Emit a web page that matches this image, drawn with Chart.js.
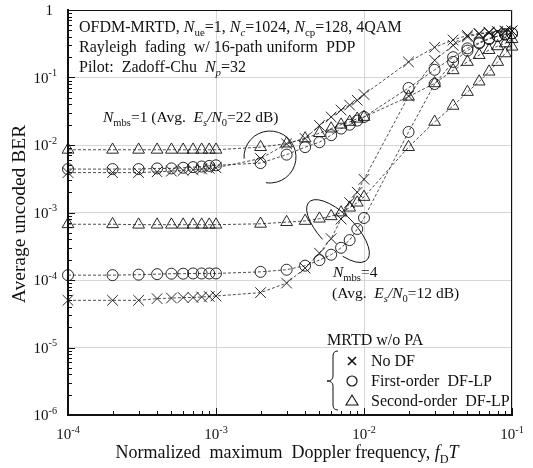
<!DOCTYPE html>
<html>
<head>
<meta charset="utf-8">
<script src="https://cdn.jsdelivr.net/npm/chart.js@4.4.1/dist/chart.umd.min.js"></script>
<style>
  html, body { margin: 0; padding: 0; background: #fff; }
  #wrap { width: 533px; height: 468px; }
</style>
</head>
<body>
<div id="wrap"><canvas id="berChart" width="533" height="468"></canvas></div>
<script>
// normalized max Doppler frequency fD*T (same grid for every curve)
const fdT = [
  1e-4, 2e-4, 3e-4, 4e-4, 5e-4, 6e-4, 7e-4, 8e-4, 9e-4,
  1e-3, 2e-3, 3e-3, 4e-3, 5e-3, 6e-3, 7e-3, 8e-3, 9e-3,
  1e-2, 2e-2, 3e-2, 4e-2, 5e-2, 6e-2, 7e-2, 8e-2, 9e-2, 1e-1
];

// Nmbs = 1 (Avg. Es/N0 = 22 dB)
const noDfMbs1 = [
  3.9e-3, 3.9e-3, 3.9e-3, 4.0e-3, 4.1e-3, 4.2e-3, 4.3e-3, 4.4e-3, 4.5e-3,
  4.6e-3, 6.3e-3, 1.04e-2, 1.25e-2, 1.95e-2, 2.6e-2, 3.3e-2, 3.9e-2, 4.6e-2,
  5.6e-2, 0.17, 0.28, 0.36, 0.42, 0.45, 0.47, 0.48, 0.49, 0.49
];
const firstOrderMbs1 = [
  4.4e-3, 4.4e-3, 4.4e-3, 4.5e-3, 4.5e-3, 4.6e-3, 4.7e-3, 4.8e-3, 4.9e-3,
  5.0e-3, 5.4e-3, 7.2e-3, 9.3e-3, 1.1e-2, 1.4e-2, 1.75e-2, 2.0e-2, 2.3e-2,
  2.6e-2, 7.0e-2, 0.13, 0.2, 0.27, 0.33, 0.38, 0.41, 0.44, 0.45
];
const secondOrderMbs1 = [
  8.5e-3, 8.5e-3, 8.5e-3, 8.5e-3, 8.5e-3, 8.5e-3, 8.5e-3, 8.5e-3, 8.5e-3,
  8.5e-3, 9.3e-3, 1.05e-2, 1.25e-2, 1.5e-2, 1.75e-2, 2.0e-2, 2.2e-2, 2.45e-2,
  2.6e-2, 5.2e-2, 8.2e-2, 0.128, 0.17, 0.215, 0.255, 0.29, 0.32, 0.37
];

// Nmbs = 4 (Avg. Es/N0 = 12 dB)
const noDfMbs4 = [
  5.0e-5, 5.0e-5, 5.0e-5, 5.3e-5, 5.4e-5, 5.5e-5, 5.5e-5, 5.6e-5, 5.7e-5,
  5.8e-5, 6.5e-5, 9.0e-5, 1.5e-4, 2.5e-4, 4.1e-4, 8.0e-4, 1.4e-3, 2.0e-3,
  3.1e-3, 5.3e-2, 0.18, 0.3, 0.4, 0.44, 0.46, 0.47, 0.48, 0.49
];
const firstOrderMbs4 = [
  1.18e-4, 1.18e-4, 1.2e-4, 1.22e-4, 1.24e-4, 1.24e-4, 1.25e-4, 1.25e-4, 1.25e-4,
  1.25e-4, 1.32e-4, 1.42e-4, 1.63e-4, 1.97e-4, 2.37e-4, 3.0e-4, 3.9e-4, 5.7e-4,
  8.3e-4, 1.56e-2, 8.0e-2, 0.17, 0.25, 0.32, 0.37, 0.41, 0.43, 0.45
];
const secondOrderMbs4 = [
  6.7e-4, 6.7e-4, 6.6e-4, 6.6e-4, 6.6e-4, 6.6e-4, 6.6e-4, 6.6e-4, 6.6e-4,
  6.6e-4, 6.8e-4, 7.2e-4, 7.5e-4, 8.1e-4, 8.8e-4, 1.0e-3, 1.18e-3, 1.4e-3,
  1.7e-3, 9.3e-3, 2.2e-2, 3.8e-2, 6.1e-2, 8.7e-2, 0.122, 0.17, 0.228, 0.286
];

// axis decades and their tick label exponents
const decadesX = [1e-4, 1e-3, 1e-2, 1e-1];
const xTickExp = ['-4', '-3', '-2', '-1'];
const decadesY = [1e-6, 1e-5, 1e-4, 1e-3, 1e-2, 1e-1, 1];
const yTickExp = ['-6', '-5', '-4', '-3', '-2', '-1', ''];

const SERIF = '"Liberation Serif", "Times New Roman", serif';
const INK = '#111';

function series(values, style, radius) {
  return {
    data: fdT.map((f, i) => ({ x: f, y: values[i] })),
    borderColor: '#222',
    borderWidth: 0.8,
    borderDash: [3, 2],
    pointStyle: style,
    pointRadius: radius,
    pointBorderColor: '#111',
    pointBackgroundColor: 'rgba(0,0,0,0)',
    pointBorderWidth: 0.9,
    fill: false,
    tension: 0,
    clip: false
  };
}

// rich text helpers: plain, italic, subscript, superscript
const T = (t) => ({ t });
const I = (t) => ({ t, i: true });
const SUB = (t, i) => ({ t, sub: true, i: !!i });
const SUP = (t) => ({ t, sup: true });

function fontOf(size, italic) {
  return (italic ? 'italic ' : '') + size + 'px ' + SERIF;
}
function drawRich(ctx, parts, x, y, size, align) {
  const small = size * 0.68;
  let w = 0;
  parts.forEach((p) => {
    ctx.font = fontOf(p.sub || p.sup ? small : size, p.i);
    w += ctx.measureText(p.t).width;
  });
  let cx = align === 'center' ? x - w / 2 : align === 'right' ? x - w : x;
  ctx.textAlign = 'left';
  ctx.textBaseline = 'alphabetic';
  parts.forEach((p) => {
    ctx.font = fontOf(p.sub || p.sup ? small : size, p.i);
    const dy = p.sub ? size * 0.26 : p.sup ? -size * 0.42 : 0;
    ctx.fillText(p.t, cx, y + dy);
    cx += ctx.measureText(p.t).width;
  });
}

function legendMark(ctx, kind, x, y) {
  ctx.beginPath();
  if (kind === 'x') {
    ctx.lineWidth = 1.6;
    ctx.moveTo(x - 4, y - 4); ctx.lineTo(x + 4, y + 4);
    ctx.moveTo(x + 4, y - 4); ctx.lineTo(x - 4, y + 4);
  } else if (kind === 'o') {
    ctx.lineWidth = 1.2;
    ctx.arc(x, y, 5, 0, Math.PI * 2);
  } else {
    ctx.lineWidth = 1.1;
    ctx.moveTo(x, y - 6); ctx.lineTo(x + 6, y + 4); ctx.lineTo(x - 6, y + 4); ctx.closePath();
  }
  ctx.stroke();
}

const decorations = {
  id: 'decorations',
  afterDraw(chart) {
    const { ctx, chartArea: a, scales } = chart;
    const sx = scales.x, sy = scales.y;
    ctx.save();
    ctx.strokeStyle = INK;
    ctx.fillStyle = INK;

    // frame (top / right)
    ctx.lineWidth = 1;
    ctx.beginPath();
    ctx.moveTo(a.left, a.top + 0.5); ctx.lineTo(a.right - 0.5, a.top + 0.5); ctx.lineTo(a.right - 0.5, a.bottom);
    ctx.stroke();

    // inward ticks on left and bottom axes
    ctx.lineWidth = 1;
    ctx.beginPath();
    for (let e = -4; e <= -1; e++) {
      for (let m = 1; m <= 9; m++) {
        const v = m * Math.pow(10, e);
        if (v > 0.1 + 1e-9) continue;
        const px = Math.round(sx.getPixelForValue(v)) + 0.5;
        const len = m === 1 ? 7 : 4;
        ctx.moveTo(px, a.bottom); ctx.lineTo(px, a.bottom - len);
      }
    }
    for (let e = -6; e <= 0; e++) {
      for (let m = 1; m <= 9; m++) {
        const v = m * Math.pow(10, e);
        if (v > 1 + 1e-9) continue;
        const py = Math.round(sy.getPixelForValue(v)) + 0.5;
        const len = m === 1 ? 7 : 4;
        ctx.moveTo(a.left, py); ctx.lineTo(a.left + len, py);
      }
    }
    ctx.stroke();

    // tick labels
    decadesY.forEach((v, i) => {
      const py = sy.getPixelForValue(v);
      if (yTickExp[i] === '') {
        drawRich(ctx, [T('1')], 53, py + 5, 15, 'right');
      } else {
        drawRich(ctx, [T('10'), SUP(yTickExp[i])], 57, py + 5, 15, 'right');
      }
    });
    decadesX.forEach((v, i) => {
      const px = sx.getPixelForValue(v);
      drawRich(ctx, [T('10'), SUP(xTickExp[i])], px, 439, 15, 'center');
    });

    // axis titles
    drawRich(ctx, [T('Normalized  maximum  Doppler frequency, '), I('f'), SUB('D'), I('T')], 287, 458, 18, 'center');
    ctx.save();
    ctx.translate(25, 214);
    ctx.rotate(-Math.PI / 2);
    drawRich(ctx, [T('Average uncoded BER')], 0, 0, 19.5, 'center');
    ctx.restore();

    // simulation conditions
    drawRich(ctx, [T('OFDM-MRTD, '), I('N'), SUB('ue'), T('=1, '), I('N'), SUB('c', true), T('=1024, '),
      I('N'), SUB('cp'), T('=128, 4QAM')], 79, 32, 16, 'left');
    drawRich(ctx, [T('Rayleigh  fading  w/ 16-path uniform  PDP')], 79, 52, 16, 'left');
    drawRich(ctx, [T('Pilot:  Zadoff-Chu  '), I('N'), SUB('p', true), T('=32')], 79, 72, 16, 'left');

    // curve group annotations
    drawRich(ctx, [I('N'), SUB('mbs'), T('=1 (Avg.  '), I('E'), SUB('s', true), I('/N'), SUB('0'), T('=22 dB)')],
      103, 122, 15.5, 'left');
    drawRich(ctx, [I('N'), SUB('mbs'), T('=4')], 333, 277, 15.5, 'left');
    drawRich(ctx, [T('(Avg.  '), I('E'), SUB('s', true), I('/N'), SUB('0'), T('=12 dB)')], 332, 298, 15.5, 'left');

    ctx.lineWidth = 1;
    ctx.beginPath();
    ctx.ellipse(270, 157, 26, 26, 0, Math.PI * 0.98, Math.PI * 2.55);
    ctx.stroke();
    ctx.beginPath();
    ctx.ellipse(338, 231, 41, 17, Math.PI / 4, 97 * Math.PI / 180, (59 + 360) * Math.PI / 180);
    ctx.stroke();

    // legend
    drawRich(ctx, [T('MRTD w/o PA')], 327, 345, 16, 'left');
    ctx.lineWidth = 1;
    ctx.beginPath();
    ctx.moveTo(338, 351); ctx.quadraticCurveTo(333, 351, 333, 356);
    ctx.lineTo(333, 376); ctx.quadraticCurveTo(333, 381, 327, 381);
    ctx.quadraticCurveTo(333, 381, 333, 386);
    ctx.lineTo(333, 405); ctx.quadraticCurveTo(333, 410, 338, 410);
    ctx.stroke();
    legendMark(ctx, 'x', 352, 361);
    legendMark(ctx, 'o', 352, 381);
    legendMark(ctx, 't', 352, 401);
    drawRich(ctx, [T('No DF')], 371, 366, 16, 'left');
    drawRich(ctx, [T('First-order  DF-LP')], 371, 386, 16, 'left');
    drawRich(ctx, [T('Second-order  DF-LP')], 371, 406, 16, 'left');

    ctx.restore();
  }
};

const ctx = document.getElementById('berChart').getContext('2d');
const berChart = new Chart(ctx, {
  type: 'line',
  data: {
    datasets: [
      series(noDfMbs1, 'crossRot', 7.5),
      series(firstOrderMbs1, 'circle', 5.5),
      series(secondOrderMbs1, 'triangle', 6.8),
      series(noDfMbs4, 'crossRot', 7.5),
      series(firstOrderMbs4, 'circle', 5.5),
      series(secondOrderMbs4, 'triangle', 6.8)
    ]
  },
  options: {
    responsive: false,
    animation: false,
    devicePixelRatio: 1,
    layout: { padding: { top: 10, right: 21, left: 0, bottom: 0 } },
    plugins: { legend: { display: false }, tooltip: { enabled: false } },
    scales: {
      x: {
        type: 'logarithmic',
        min: 1e-4,
        max: 1e-1,
        afterBuildTicks: (s) => { s.ticks = decadesX.map((v) => ({ value: v })); },
        afterFit: (s) => { s.height = 53; },
        ticks: { display: false },
        grid: { color: '#d6d6d6', lineWidth: 1, drawTicks: false },
        border: { display: true, color: INK, width: 2 }
      },
      y: {
        type: 'logarithmic',
        min: 1e-6,
        max: 1,
        afterBuildTicks: (s) => { s.ticks = decadesY.map((v) => ({ value: v })); },
        afterFit: (s) => { s.width = 68; },
        ticks: { display: false },
        grid: { color: '#d6d6d6', lineWidth: 1, drawTicks: false },
        border: { display: true, color: INK, width: 2 }
      }
    }
  },
  plugins: [decorations]
});
</script>
</body>
</html>
